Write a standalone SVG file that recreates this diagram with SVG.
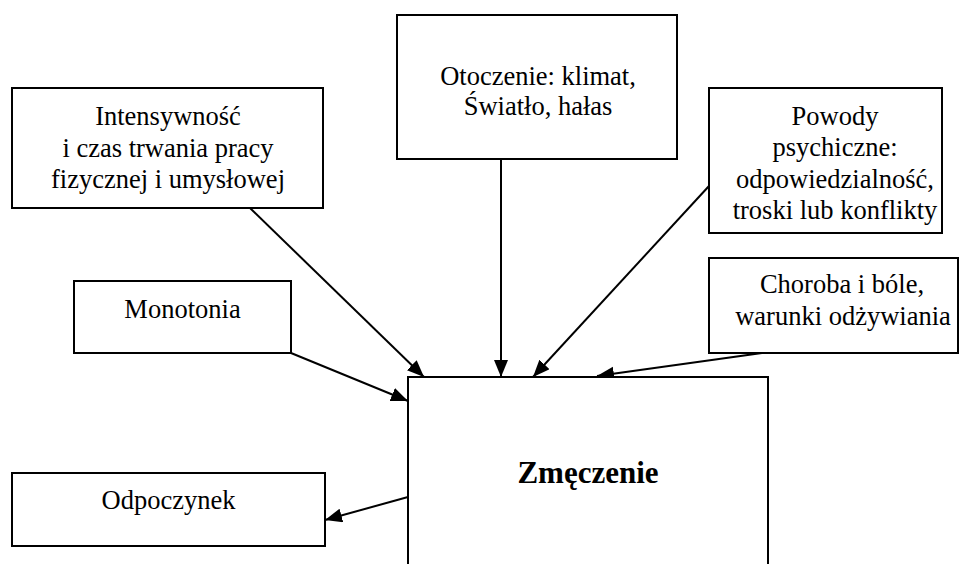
<svg xmlns="http://www.w3.org/2000/svg" width="960" height="564" viewBox="0 0 960 564">
<style>
.box{fill:#fff;stroke:#000;stroke-width:2}
.t{font-family:"Liberation Serif","Times New Roman",serif;font-size:26.5px;fill:#000;text-anchor:middle}
.b{font-weight:bold;font-size:31px}
.c{stroke:#000;stroke-width:2;fill:none;marker-end:url(#ah)}
</style>
<defs>
<marker id="ah" markerUnits="userSpaceOnUse" markerWidth="18" markerHeight="15" refX="17" refY="7" orient="auto">
<path d="M0,0 L17,7 L0,14 z" fill="#000"/>
</marker>
</defs>
<rect width="960" height="564" fill="#fff"/>
<g id="connectors">
<line class="c" x1="250" y1="208" x2="424" y2="377"/>
<line class="c" x1="501" y1="159" x2="501" y2="377"/>
<line class="c" x1="709" y1="186" x2="533" y2="377"/>
<line class="c" x1="762" y1="353" x2="597" y2="376"/>
<line class="c" x1="291" y1="353" x2="408" y2="401"/>
<line class="c" x1="408" y1="497" x2="325" y2="520"/>
</g>
<g id="intensywnosc">
<rect class="box" x="12" y="88" width="311" height="120"/>
<text class="t" x="168" y="125">Intensywność</text>
<text class="t" x="168" y="157">i czas trwania pracy</text>
<text class="t" x="168" y="188">fizycznej i umysłowej</text>
</g>
<g id="otoczenie">
<rect class="box" x="397" y="15" width="280" height="144"/>
<text class="t" x="538" y="85">Otoczenie: klimat,</text>
<text class="t" x="538" y="115">Światło, hałas</text>
</g>
<g id="powody">
<rect class="box" x="709" y="88" width="233" height="145"/>
<text class="t" x="835" y="125">Powody</text>
<text class="t" x="835" y="156">psychiczne:</text>
<text class="t" x="835" y="188">odpowiedzialność,</text>
<text class="t" x="835" y="219">troski lub konflikty</text>
</g>
<g id="choroba">
<rect class="box" x="709" y="258" width="249" height="95"/>
<text class="t" x="842" y="293">Choroba i bóle,</text>
<text class="t" x="843" y="325">warunki odżywiania</text>
</g>
<g id="monotonia">
<rect class="box" x="74" y="281" width="217" height="72"/>
<text class="t" x="182.5" y="318">Monotonia</text>
</g>
<g id="odpoczynek">
<rect class="box" x="12" y="473" width="313" height="73"/>
<text class="t" x="168.5" y="509">Odpoczynek</text>
</g>
<g id="zmeczenie">
<path class="box" d="M408,566 V377 H768 V566"/>
<text class="t b" x="588" y="483">Zmęczenie</text>
</g>
</svg>
